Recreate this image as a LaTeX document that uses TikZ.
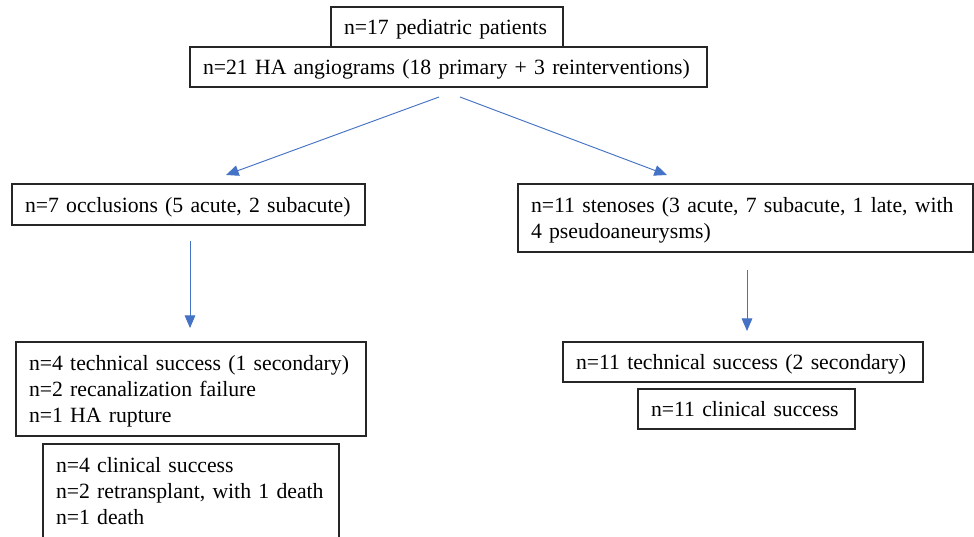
\documentclass[tikz,border=0pt]{standalone}
\usepackage{fontspec}
\setmainfont{Liberation Serif}
\usetikzlibrary{arrows.meta}
\definecolor{arrowblue}{HTML}{4472C4}
\definecolor{boxline}{HTML}{262626}
\newcommand{\lst}{\rule[-3.5pt]{0pt}{18.25pt}}
\begin{document}
\begin{tikzpicture}[x=0.75pt,y=-0.75pt,
  box/.style={draw=boxline, line width=1.1pt, anchor=north west, outer sep=0pt,
    align=left, inner xsep=9.75pt, inner ysep=0pt,
    font=\fontsize{16.3}{19.8}\selectfont},
  conn/.style={draw=arrowblue, line width=0.7pt,
    -{Triangle[length=9.5pt,width=8pt]}}]
\fill[white] (0,0) rectangle (974,536);
\useasboundingbox (0,0) rectangle (974,536);

\node[box, text width=154.5pt, minimum height=30pt] (pat) at (331,7) {\lst\mbox{n=17 pediatric patients}};
\node[box, text width=368.25pt, minimum height=30pt] (ang) at (190,47) {\lst\mbox{n=21 HA angiograms (18 primary + 3 reinterventions)}};
\node[box, text width=245.25pt, minimum height=30.75pt] (occ) at (12,184) {\lst\mbox{n=7 occlusions (5 acute, 2 subacute)}};
\node[box, text width=321.75pt, minimum height=51pt] (sten) at (518,184) {\lst\mbox{n=11 stenoses (3 acute, 7 subacute, 1 late, with}\\\lst\mbox{4 pseudoaneurysms)}};
\node[box, text width=243pt, minimum height=70.5pt] (techl) at (16,342) {\lst\mbox{n=4 technical success (1 secondary)}\\\lst\mbox{n=2 recanalization failure}\\\lst\mbox{n=1 HA rupture}};
\node[box, text width=202.5pt, minimum height=70.5pt] (clinl) at (43,444) {\lst\mbox{n=4 clinical success}\\\lst\mbox{n=2 retransplant, with 1 death}\\\lst\mbox{n=1 death}};
\node[box, text width=250.5pt, minimum height=30pt] (techr) at (563,342) {\lst\mbox{n=11 technical success (2 secondary)}};
\node[box, text width=143.25pt, minimum height=30pt] (clinr) at (638,389) {\lst\mbox{n=11 clinical success}};

\coordinate (s1) at (439,97);
\coordinate (e1) at (226,175);
\coordinate (s2) at (460,97);
\coordinate (e2) at (667,175);
\coordinate (s3) at (190,241);
\coordinate (e3) at (190,328);
\coordinate (s4) at (747,270);
\coordinate (e4) at (747,331);

\draw[conn] (s1) -- (e1);
\draw[conn] (s2) -- (e2);
\draw[conn] (s3) -- (e3);
\draw[conn] (s4) -- (e4);
\end{tikzpicture}
\end{document}
